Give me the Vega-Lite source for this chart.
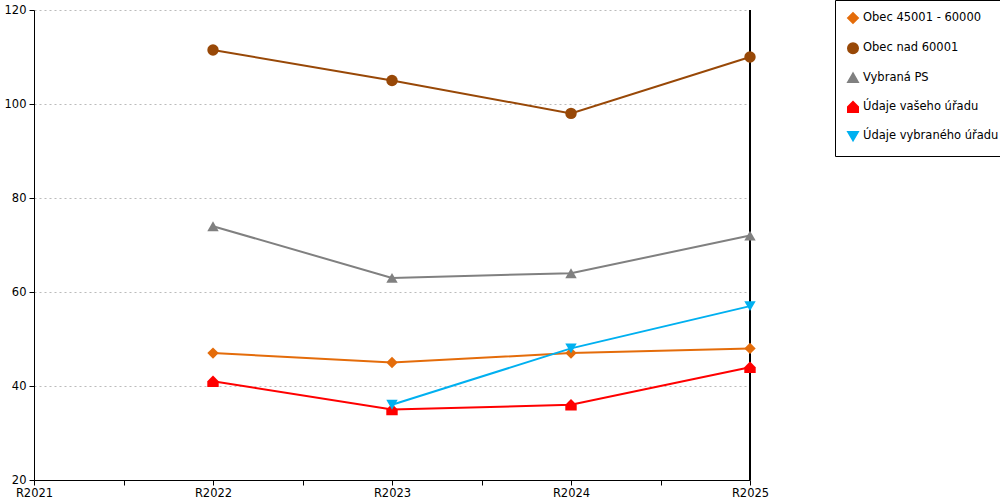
{
  "$schema": "https://vega.github.io/schema/vega-lite/v6.json",
  "width": 716,
  "height": 470,
  "autosize": "none",
  "padding": {"left": 34, "top": 10, "right": 250, "bottom": 20},
  "background": "white",
  "config": {
    "font": "DejaVu Sans",
    "view": {"stroke": null},
    "axis": {
      "domainColor": "black",
      "tickColor": "black",
      "labelColor": "black",
      "labelFontSize": 11.5,
      "labelFont": "DejaVu Sans",
      "title": null
    }
  },
  "data": {
    "values": [
      {"rok": 2022, "rada": "Obec 45001 - 60000", "hodnota": 47},
      {"rok": 2023, "rada": "Obec 45001 - 60000", "hodnota": 45},
      {"rok": 2024, "rada": "Obec 45001 - 60000", "hodnota": 47},
      {"rok": 2025, "rada": "Obec 45001 - 60000", "hodnota": 48},
      {"rok": 2022, "rada": "Obec nad 60001", "hodnota": 111.5},
      {"rok": 2023, "rada": "Obec nad 60001", "hodnota": 105},
      {"rok": 2024, "rada": "Obec nad 60001", "hodnota": 98},
      {"rok": 2025, "rada": "Obec nad 60001", "hodnota": 110},
      {"rok": 2022, "rada": "Vybraná PS", "hodnota": 74},
      {"rok": 2023, "rada": "Vybraná PS", "hodnota": 63},
      {"rok": 2024, "rada": "Vybraná PS", "hodnota": 64},
      {"rok": 2025, "rada": "Vybraná PS", "hodnota": 72},
      {"rok": 2022, "rada": "Údaje vašeho úřadu", "hodnota": 41},
      {"rok": 2023, "rada": "Údaje vašeho úřadu", "hodnota": 35},
      {"rok": 2024, "rada": "Údaje vašeho úřadu", "hodnota": 36},
      {"rok": 2025, "rada": "Údaje vašeho úřadu", "hodnota": 44},
      {"rok": 2023, "rada": "Údaje vybraného úřadu", "hodnota": 36},
      {"rok": 2024, "rada": "Údaje vybraného úřadu", "hodnota": 48},
      {"rok": 2025, "rada": "Údaje vybraného úřadu", "hodnota": 57}
    ]
  },
  "layer": [
    {
      "mark": {"type": "rule", "color": "black", "strokeWidth": 1},
      "encoding": {"x": {"datum": 2025, "type": "quantitative"}}
    },
    {
      "mark": {"type": "line", "strokeWidth": 2},
      "encoding": {
        "x": {
          "field": "rok",
          "type": "quantitative",
          "scale": {"domain": [2021, 2025], "nice": false, "zero": false},
          "axis": {
            "values": [2021, 2021.5, 2022, 2022.5, 2023, 2023.5, 2024, 2024.5, 2025],
            "labelExpr": "datum.value % 1 === 0 ? 'R' + datum.value : ''",
            "grid": false,
            "labelOverlap": false,
            "labelFlush": false,
            "tickSize": 5,
            "labelPadding": 2
          }
        },
        "y": {
          "field": "hodnota",
          "type": "quantitative",
          "scale": {"domain": [20, 120], "nice": false, "zero": false},
          "axis": {
            "values": [20, 40, 60, 80, 100, 120],
            "grid": true,
            "gridDash": [2, 3],
            "gridColor": "#bbbbbb",
            "tickSize": 5,
            "labelPadding": 3
          }
        },
        "color": {
          "field": "rada",
          "type": "nominal",
          "scale": {
            "domain": ["Obec 45001 - 60000", "Obec nad 60001", "Vybraná PS", "Údaje vašeho úřadu", "Údaje vybraného úřadu"],
            "range": ["#E46C0A", "#984807", "#808080", "#FF0000", "#00B0F0"]
          }
        }
      }
    },
    {
      "mark": {"type": "point", "filled": true, "opacity": 1, "size": 130},
      "encoding": {
        "x": {"field": "rok", "type": "quantitative"},
        "y": {"field": "hodnota", "type": "quantitative"},
        "color": {
          "field": "rada",
          "type": "nominal",
          "legend": {
            "title": null,
            "orient": "none",
            "legendX": 801,
            "legendY": -10,
            "strokeColor": "black",
            "fillColor": "white",
            "padding": 12,
            "rowPadding": 12.3,
            "labelFontSize": 11.5,
            "labelFont": "DejaVu Sans",
            "labelColor": "black",
            "symbolSize": 110,
            "symbolOpacity": 1,
            "labelLimit": 200
          }
        },
        "shape": {
          "field": "rada",
          "type": "nominal",
          "scale": {
            "domain": ["Obec 45001 - 60000", "Obec nad 60001", "Vybraná PS", "Údaje vašeho úřadu", "Údaje vybraného úřadu"],
            "range": ["diamond", "circle", "triangle-up", "M-1,1L-1,0L0,-1L1,0L1,1Z", "triangle-down"]
          },
          "legend": {
            "title": null,
            "orient": "none",
            "legendX": 801,
            "legendY": -10
          }
        }
      }
    }
  ]
}
